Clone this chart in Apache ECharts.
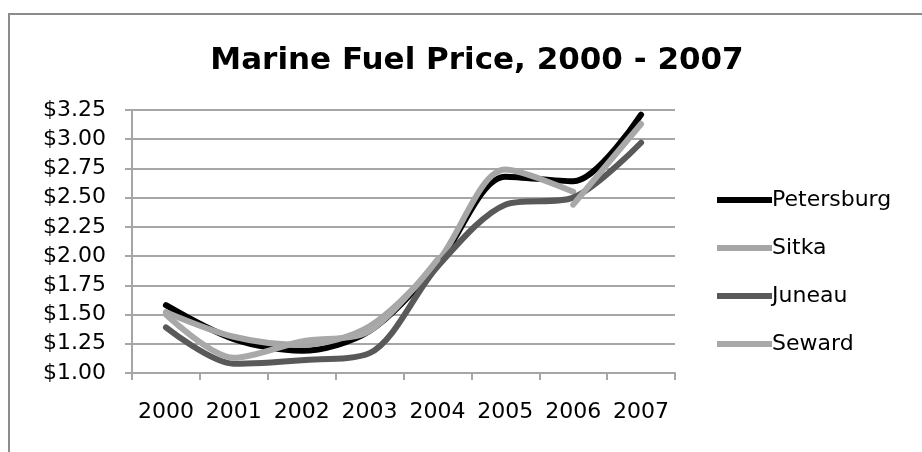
<!DOCTYPE html>
<html>
<head>
<meta charset="utf-8">
<script src="https://cdn.jsdelivr.net/npm/echarts@6/dist/echarts.min.js"></script>
<style>
  html, body { margin: 0; padding: 0; background: #fff; }
  #chart { width: 922px; height: 452px; }
</style>
</head>
<body>
<div id="chart"></div>
<script>
// Marine fuel price per gallon by port, 2000 - 2007
const years = ['2000', '2001', '2002', '2003', '2004', '2005', '2006', '2007'];
const petersburg = [1.58, 1.29, 1.19, 1.36, 1.93, 2.68, 2.64, 3.21];
const sitka      = [1.52, 1.31, 1.24, 1.40, 1.95, 2.74, 2.55, null];
const juneau     = [1.39, 1.08, 1.11, 1.17, 1.91, 2.44, 2.50, 2.97];
const seward     = [1.50, 1.13, 1.27, 1.36, 1.97, null, 2.44, 3.13];
const yTicks = { min: 1.00, max: 3.25, step: 0.25 };

const FONT = 'DejaVu Sans';
const GRID_GRAY = '#A6A6A6';

function lineSeries(name, data, color) {
  return {
    name: name,
    type: 'line',
    data: data,
    smooth: 0.3,
    symbol: 'none',
    connectNulls: false,
    lineStyle: { color: color, width: 6, cap: 'round', join: 'round' },
    itemStyle: { color: color },
    emphasis: { disabled: true }
  };
}

const chart = echarts.init(document.getElementById('chart'), null, { renderer: 'canvas' });
chart.setOption({
  animation: false,
  backgroundColor: '#fff',
  title: {
    text: 'Marine Fuel Price, 2000 - 2007',
    left: 472,
    textAlign: 'center',
    top: 40,
    textStyle: { fontFamily: FONT, fontWeight: 'bold', fontSize: 31, color: '#000' }
  },
  graphic: [{
    type: 'rect',
    shape: { x: 9, y: 14, width: 940, height: 470 },
    style: { fill: 'none', stroke: '#8C8C8C', lineWidth: 2 },
    silent: true
  }],
  legend: {
    orient: 'vertical',
    left: 712,
    top: 184,
    icon: 'rect',
    itemWidth: 55,
    itemHeight: 6,
    itemGap: 26,
    textStyle: { fontFamily: FONT, fontSize: 22, color: '#000', lineHeight: 18, padding: [0, 0, 0, -5] },
    data: ['Petersburg', 'Sitka', 'Juneau', 'Seward']
  },
  grid: { left: 132, right: 247, top: 110, bottom: 79, containLabel: false },
  xAxis: {
    type: 'category',
    data: years,
    boundaryGap: true,
    axisLine: { lineStyle: { color: GRID_GRAY, width: 2 } },
    axisTick: { show: true, length: 7, lineStyle: { color: GRID_GRAY, width: 2 } },
    axisLabel: { interval: 0, fontFamily: FONT, fontSize: 22, color: '#000', margin: 28 },
    splitLine: { show: false }
  },
  yAxis: {
    type: 'value',
    min: yTicks.min,
    max: yTicks.max,
    interval: yTicks.step,
    axisLine: { show: true, lineStyle: { color: GRID_GRAY, width: 2 } },
    axisTick: { show: true, length: 7, lineStyle: { color: GRID_GRAY, width: 2 } },
    axisLabel: {
      fontFamily: FONT, fontSize: 22, color: '#000', margin: 26,
      formatter: v => '$' + v.toFixed(2)
    },
    splitLine: { show: true, lineStyle: { color: GRID_GRAY, width: 2 } }
  },
  series: [
    lineSeries('Petersburg', petersburg, '#000000'),
    lineSeries('Sitka', sitka, '#A6A6A6'),
    lineSeries('Juneau', juneau, '#595959'),
    lineSeries('Seward', seward, '#A9A9A9')
  ]
});
</script>
</body>
</html>
